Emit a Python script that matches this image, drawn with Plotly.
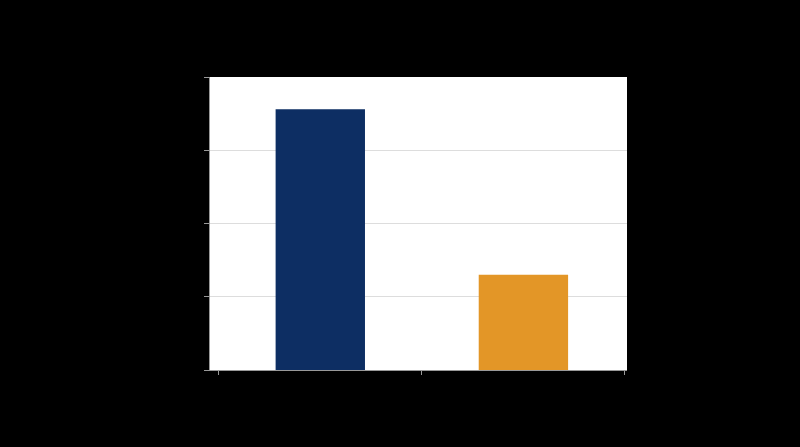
import plotly.graph_objects as go

# values (text in the reference is black on black)
categories = ['A', 'B']
values = [3.56, 1.30]
colors = ['#0d2e63', '#e39627']
y_ticks = [0, 1, 2, 3, 4]

fig = go.Figure(go.Bar(
    x=categories,
    y=values,
    marker=dict(color=colors, line=dict(width=0)),
    width=0.44,
))

fig.update_layout(
    width=800,
    height=447,
    margin=dict(l=210, r=173, t=77, b=77),
    paper_bgcolor='black',
    plot_bgcolor='white',
    font=dict(family='Liberation Sans', size=12, color='black'),
    title=dict(text='Chart', font=dict(color='black')),
    showlegend=False,
)

fig.update_xaxes(
    range=[-0.543, 1.51],
    tickson='boundaries',
    ticks='outside',
    ticklen=4,
    tickcolor='#999999',
    showline=True,
    linecolor='#999999',
    linewidth=1,
    showgrid=False,
    tickfont=dict(color='black'),
)

fig.update_yaxes(
    range=[0, 4],
    tickvals=y_ticks,
    ticks='outside',
    ticklen=5,
    tickcolor='#999999',
    showline=True,
    linecolor='#999999',
    linewidth=1,
    showgrid=True,
    gridcolor='#dddddd',
    zeroline=False,
    tickfont=dict(color='black'),
)

# page itself black with no margin, like the reference
fig.write_html(
    "out.html",
    config={'displayModeBar': False},
    post_script="document.body.style.margin='0';document.body.style.background='black';",
)
